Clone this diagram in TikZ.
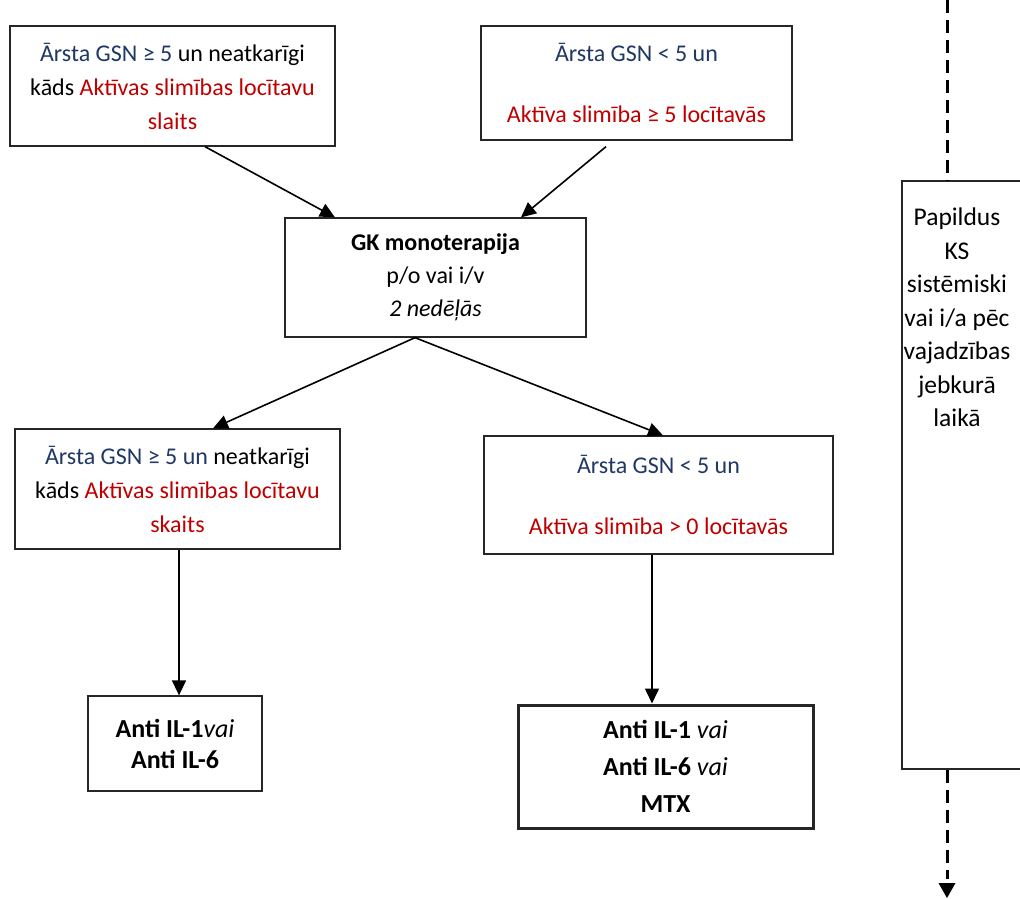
\documentclass[tikz,border=0pt]{standalone}
\usepackage{fontspec}
\setmainfont{Carlito}
\usetikzlibrary{arrows.meta,calc}
\definecolor{gsnblue}{HTML}{1F3864}
\definecolor{redtxt}{HTML}{C00000}
\tikzset{
  box/.style={draw=black!85, line width=1.3pt, align=center, inner sep=0pt, font=\fontsize{24}{34}\selectfont},
  thickbox/.style={box, line width=3pt},
  arr/.style={line width=1.6pt, -{Triangle[length=15pt,width=14pt]}},
  dasharr/.style={line width=3pt, dash pattern=on 13pt off 7pt},
}
\begin{document}
\begin{tikzpicture}[x=1pt,y=-1pt]
\useasboundingbox (0,0) rectangle (1020,899);
\fill[white] (0,0) rectangle (1020,899);
\clip (0,0) rectangle (1020,899);

\node[box, minimum width=325pt, minimum height=120pt] (A) at (172.5,86)
 {\textcolor{gsnblue}{Ārsta GSN ≥ 5} un neatkarīgi\\ kāds \textcolor{redtxt}{Aktīvas slimības locītavu}\\ \textcolor{redtxt}{slaits}};
\node[box, minimum width=311pt, minimum height=114pt] (B) at (636.5,83)
 {\textcolor{gsnblue}{Ārsta GSN < 5 un}\\[27pt] \textcolor{redtxt}{Aktīva slimība ≥ 5 locītavās}};
\node[box, minimum width=301pt, minimum height=119pt, font=\fontsize{24}{33}\selectfont] (C) at (435.5,277.5)
 {\textbf{GK monoterapija}\\ p/o vai i/v\\ \textit{2 nedēļās}};
\node[box, minimum width=325pt, minimum height=120pt] (D) at (177.5,489)
 {\textcolor{gsnblue}{Ārsta GSN ≥ 5 un} neatkarīgi\\ kāds \textcolor{redtxt}{Aktīvas slimības locītavu}\\ \textcolor{redtxt}{skaits}};
\node[box, minimum width=349pt, minimum height=118pt] (E) at (658.5,495)
 {\textcolor{gsnblue}{Ārsta GSN < 5 un}\\[27pt] \textcolor{redtxt}{Aktīva slimība > 0 locītavās}};
\node[box, minimum width=174pt, minimum height=95pt, font=\fontsize{26}{31}\selectfont] (F) at (175,743.5)
 {\textbf{Anti IL-1}\textit{vai}\\ \textbf{Anti IL-6}};
\node[thickbox, minimum width=295pt, minimum height=123pt, font=\fontsize{26}{37}\selectfont] (G) at (665.5,766.5)
 {\textbf{Anti IL-1} \textit{vai}\\ \textbf{Anti IL-6} \textit{vai}\\ \textbf{MTX}};
\node[box, minimum width=128pt, minimum height=588pt] (H) at (966,475) {};
\node[align=center, inner sep=0pt, font=\fontsize{25.5}{33.5}\selectfont] (Ht) at (957,317.5)
 {Papildus\\ KS\\ sistēmiski\\ vai i/a pēc\\ vajadzības\\ jebkurā\\ laikā};

\coordinate (top) at (947,0);
\coordinate (bot) at (947,898);
\coordinate (fN) at ($(F.north)+(4,0)$);
\coordinate (gN) at ($(G.north)+(-13.5,0)$);

\draw[arr] ($(A.south)+(32.5,0)$) -- ($(C.north)+(-100.5,0)$);
\draw[arr] ($(B.south)+(-30.5,6)$) -- ($(C.north)+(85.5,0)$);
\draw[arr] ($(C.south)+(-20.5,0)$) -- ($(D.north)+(35.5,0)$);
\draw[arr] ($(C.south)+(-20.5,0)$) -- ($(E.north)+(4.5,0)$);
\draw[arr] (fN |- D.south) -- (fN);
\draw[arr] (gN |- E.south) -- (gN);

\draw[dasharr] (top) -- (top |- H.north);
\draw[dasharr] (bot |- H.south) -- ($(bot)+(0,-19)$);
\fill ($(bot)+(-8.5,-15)$) -- ($(bot)+(8.5,-15)$) -- (bot) -- cycle;
\end{tikzpicture}
\end{document}
